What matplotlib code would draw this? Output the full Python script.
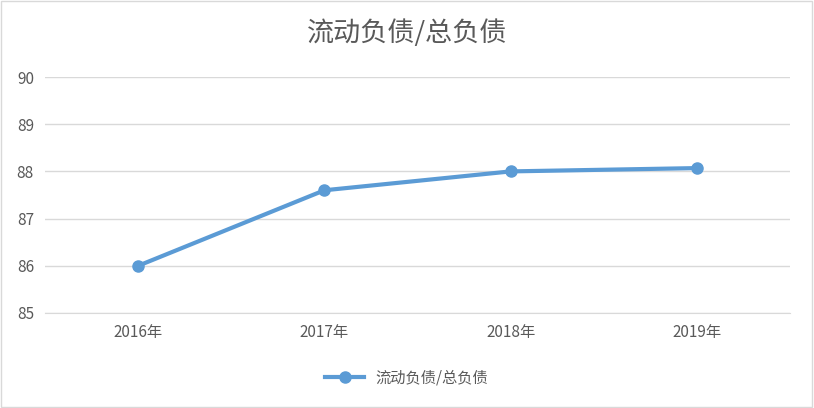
import matplotlib
matplotlib.use("Agg")
import matplotlib.pyplot as plt
from matplotlib.patches import Rectangle

plt.rcParams['font.family'] = ['Noto Sans CJK SC', 'DejaVu Sans']

categories = ["2016年", "2017年", "2018年", "2019年"]
values = [86.0, 87.6, 88.0, 88.07]
series_name = "流动负债/总负债"
yticks = [85, 86, 87, 88, 89, 90]

fig = plt.figure(figsize=(8.14, 4.08), dpi=100)
ax = fig.add_axes([45/814, 1-313/408, (790-45)/814, (313-77)/408])
x = list(range(len(categories)))
ax.plot(x, values, color="#5B9BD5", lw=3, marker="o", ms=8, label=series_name, zorder=3)
ax.set_xlim(-0.5, len(categories)-0.5)
ax.set_ylim(85, 90)
ax.set_yticks(yticks)
ax.set_xticks(x)
ax.set_xticklabels(categories)
ax.grid(axis="y", color="#D9D9D9", lw=1)
ax.set_axisbelow(True)
for s in ["top", "right", "left"]:
    ax.spines[s].set_visible(False)
ax.spines["bottom"].set_color("#D9D9D9")
ax.tick_params(length=0, labelsize=11, colors="#595959", pad=8)
fig.text(0.5, 1-33/408, series_name, ha="center", va="center", fontsize=19.5, color="#595959")
fig.legend(loc="center", bbox_to_anchor=(0.5, 1-378/408), frameon=False, fontsize=11,
           labelcolor="#595959", handlelength=2.5)
fig.patches.append(Rectangle((0.001, 0.002), 0.997, 0.996, transform=fig.transFigure,
                             fill=False, ec="#D9D9D9", lw=1))
fig.savefig("out.png", dpi=100)
